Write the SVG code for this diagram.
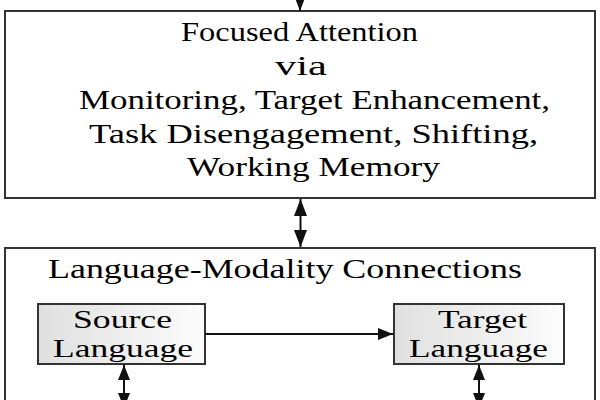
<svg xmlns="http://www.w3.org/2000/svg" width="600" height="400" viewBox="0 0 600 400">
<defs>
<linearGradient id="boxfill" x1="0" y1="0" x2="1" y2="0">
<stop offset="0" stop-color="#e0e0e0"/>
<stop offset="1" stop-color="#fcfcfc"/>
</linearGradient>
<marker id="ahBig" viewBox="0 0 10 10" refX="10" refY="5" markerWidth="17" markerHeight="13" markerUnits="userSpaceOnUse" orient="auto-start-reverse" preserveAspectRatio="none">
<path d="M0,0 L10,5 L0,10 z" fill="#111"/>
</marker>
<marker id="ahMid" viewBox="0 0 10 10" refX="10" refY="5" markerWidth="15" markerHeight="12" markerUnits="userSpaceOnUse" orient="auto-start-reverse" preserveAspectRatio="none">
<path d="M0,0 L10,5 L0,10 z" fill="#111"/>
</marker>
</defs>
<style>
.big{fill:#ffffff;stroke:#333;stroke-width:2}
.small{fill:url(#boxfill);stroke:#333;stroke-width:2}
.t{font-family:"Liberation Serif","Times New Roman",serif;font-size:28px;fill:#000}
.s{font-family:"Liberation Serif","Times New Roman",serif;font-size:26px;fill:#000}
.line{stroke:#111;stroke-width:2;fill:none}
</style>
<rect width="600" height="400" fill="#ffffff"/>

<g id="focused-attention">
<rect class="big" x="5" y="11" width="590" height="187"/>
<text class="t" x="181" y="41" textLength="237" lengthAdjust="spacingAndGlyphs">Focused Attention</text>
<text class="t" x="275" y="75" textLength="52" lengthAdjust="spacingAndGlyphs">via</text>
<text class="t" x="79" y="109" textLength="471" lengthAdjust="spacingAndGlyphs">Monitoring, Target Enhancement,</text>
<text class="t" x="89" y="143" textLength="449" lengthAdjust="spacingAndGlyphs">Task Disengagement, Shifting,</text>
<text class="t" x="187" y="176" textLength="253" lengthAdjust="spacingAndGlyphs">Working Memory</text>
</g>

<g id="language-modality">
<rect class="big" x="5" y="248" width="590" height="170"/>
<text class="t" x="48" y="278" textLength="474" lengthAdjust="spacingAndGlyphs">Language-Modality Connections</text>
</g>

<g id="source-language">
<rect class="small" x="38" y="304" width="167" height="60"/>
<text class="s" x="73" y="328" textLength="99" lengthAdjust="spacingAndGlyphs">Source</text>
<text class="s" x="53" y="357" textLength="140" lengthAdjust="spacingAndGlyphs">Language</text>
</g>

<g id="target-language">
<rect class="small" x="394" y="304" width="170" height="60"/>
<text class="s" x="438" y="328" textLength="89" lengthAdjust="spacingAndGlyphs">Target</text>
<text class="s" x="409" y="357" textLength="139" lengthAdjust="spacingAndGlyphs">Language</text>
</g>

<g id="connectors">
<line class="line" x1="300" y1="-10" x2="300" y2="11" marker-end="url(#ahBig)"/>
<line class="line" x1="300.5" y1="199" x2="300.5" y2="247" marker-start="url(#ahBig)" marker-end="url(#ahBig)"/>
<line class="line" x1="205" y1="334" x2="393" y2="334" stroke-width="1.5" marker-end="url(#ahMid)"/>
<line class="line" x1="124" y1="365" x2="124" y2="408" marker-start="url(#ahMid)" marker-end="url(#ahMid)"/>
<line class="line" x1="479" y1="365" x2="479" y2="408" marker-start="url(#ahMid)" marker-end="url(#ahMid)"/>
</g>
</svg>
